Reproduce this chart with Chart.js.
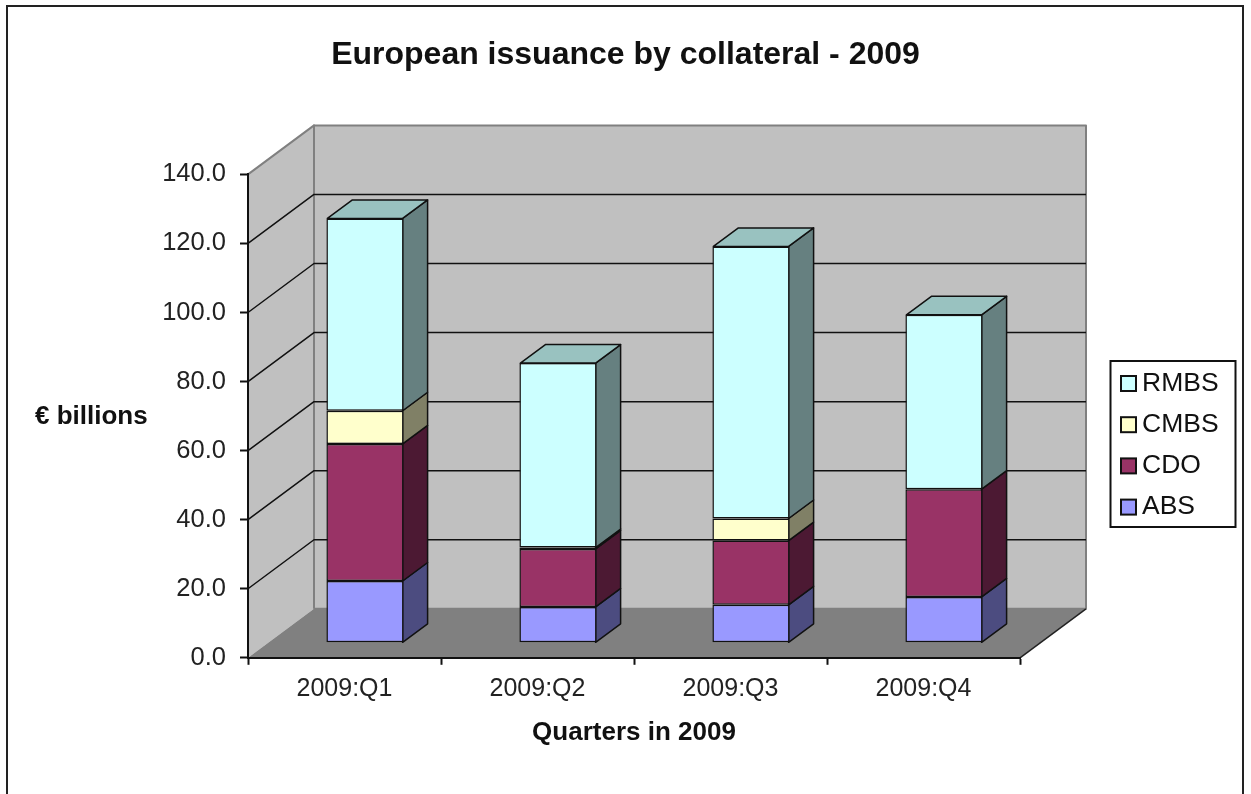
<!DOCTYPE html>
<html lang="en">
<head>
    <meta charset="UTF-8">
    <title>European issuance by collateral - 2009</title>
    <script src="https://cdnjs.cloudflare.com/ajax/libs/Chart.js/4.4.1/chart.umd.min.js"></script>
    <style>
        body { margin: 0; padding: 0; background: white; }
        canvas { display: block; }
    </style>
</head>
<body>
    <canvas id="issuanceChart" width="1251" height="794"></canvas>
    <script>
        // Values (EUR billions)
        const quarters = ['2009:Q1', '2009:Q2', '2009:Q3', '2009:Q4'];
        const abs = [17.9, 10.4, 11.0, 13.3];
        const cdo = [39.7, 16.8, 18.6, 31.2];
        const cmbs = [9.6, 0.4, 6.4, 0];
        const rmbs = [55.7, 53.4, 78.8, 50.5];

        const chartTitle = 'European issuance by collateral - 2009';
        const yAxisTitle = '€ billions';
        const xAxisTitle = 'Quarters in 2009';

        const fontFamily = "'Liberation Sans', Arial, sans-serif";

        // Depth of the fake 3D box and of the bars
        const wallDx = 66, wallDy = -49;
        const barShiftX = 20.5, barShiftY = -15;
        const barDepthX = 25, barDepthY = -18.5;

        function fillPoly(ctx, pts, fill, stroke, width) {
            ctx.beginPath();
            pts.forEach((p, i) => i ? ctx.lineTo(p[0], p[1]) : ctx.moveTo(p[0], p[1]));
            ctx.closePath();
            ctx.fillStyle = fill;
            ctx.fill();
            if (stroke) {
                ctx.strokeStyle = stroke;
                ctx.lineWidth = width;
                ctx.lineJoin = 'round';
                ctx.stroke();
            }
        }

        const boxPlugin = {
            id: 'box3d',
            // the title should centre on the whole picture, not on the plot column
            afterLayout(chart) {
                chart.titleBlock.left = 0;
                chart.titleBlock.right = chart.width;
            },
            // walls and floor go under the axes
            beforeDraw(chart) {
                const ctx = chart.ctx, a = chart.chartArea, y = chart.scales.y;
                ctx.save();

                // outer frame, open at the bottom
                ctx.beginPath();
                ctx.moveTo(7, 794); ctx.lineTo(7, 6); ctx.lineTo(1243, 6); ctx.lineTo(1243, 794);
                ctx.strokeStyle = '#222';
                ctx.lineWidth = 2;
                ctx.stroke();

                const l = a.left, r = a.right, t = a.top, b = a.bottom;
                fillPoly(ctx, [[l + wallDx, t + wallDy], [r + wallDx, t + wallDy], [r + wallDx, b + wallDy], [l + wallDx, b + wallDy]], '#c0c0c0', '#808080', 2);
                fillPoly(ctx, [[l, t], [l + wallDx, t + wallDy], [l + wallDx, b + wallDy], [l, b]], '#c0c0c0', null);
                ctx.beginPath();
                ctx.moveTo(l, t); ctx.lineTo(l + wallDx, t + wallDy); ctx.lineTo(l + wallDx, b + wallDy);
                ctx.strokeStyle = '#808080';
                ctx.lineWidth = 2;
                ctx.stroke();
                fillPoly(ctx, [[l, b], [l + wallDx, b + wallDy], [r + wallDx, b + wallDy], [r, b]], '#808080', null);

                // gridlines run up the side wall then along the back wall
                ctx.strokeStyle = '#111';
                ctx.lineWidth = 1.5;
                y.ticks.forEach(tick => {
                    if (tick.value === 0 || tick.value === y.max) return;
                    const py = y.getPixelForValue(tick.value);
                    ctx.beginPath();
                    ctx.moveTo(l, py);
                    ctx.lineTo(l + wallDx, py + wallDy);
                    ctx.lineTo(r + wallDx, py + wallDy);
                    ctx.stroke();
                });

                // floor's far right edge
                ctx.beginPath();
                ctx.moveTo(r, b);
                ctx.lineTo(r + wallDx, b + wallDy);
                ctx.strokeStyle = '#222';
                ctx.lineWidth = 1.5;
                ctx.stroke();
                ctx.restore();
            },
            // bars sit inside the box, so shift them and add side and top faces
            beforeDatasetsDraw(chart) {
                const ctx = chart.ctx;
                ctx.save();
                ctx.translate(barShiftX, barShiftY);
                chart.data.datasets.forEach((ds, i) => {
                    chart.getDatasetMeta(i).data.forEach((bar, j) => {
                        if (ds.data[j] === 0) return;
                        const x2 = bar.x + bar.width / 2 - 1, x1 = bar.x - bar.width / 2 + 1;
                        fillPoly(ctx, [[x2, bar.y], [x2 + barDepthX, bar.y + barDepthY], [x2 + barDepthX, bar.base + barDepthY], [x2, bar.base]], ds.sideColor, '#111', 1.5);
                        if (i === chart.data.datasets.length - 1) {
                            fillPoly(ctx, [[x1, bar.y], [x1 + barDepthX, bar.y + barDepthY], [x2 + barDepthX, bar.y + barDepthY], [x2, bar.y]], ds.topColor, '#111', 1.5);
                        }
                    });
                });
            },
            afterDatasetsDraw(chart) {
                chart.ctx.restore();
            },
            afterDraw(chart) {
                const ctx = chart.ctx;
                ctx.save();

                // horizontal y axis title
                ctx.fillStyle = '#111';
                ctx.textBaseline = 'middle';
                ctx.textAlign = 'left';
                ctx.font = "bold 26px " + fontFamily;
                ctx.fillText(yAxisTitle, 35, 417);

                // legend, top series first
                ctx.strokeStyle = '#111';
                ctx.lineWidth = 2;
                ctx.strokeRect(1110.5, 361, 125, 166);
                ctx.font = "26.5px " + fontFamily;
                const rows = chart.data.datasets.slice().reverse();
                rows.forEach((ds, i) => {
                    const rowY = 383.5 + i * 41.2;
                    ctx.fillStyle = ds.backgroundColor;
                    ctx.fillRect(1121, rowY - 7.5, 15, 15);
                    ctx.strokeRect(1121, rowY - 7.5, 15, 15);
                    ctx.fillStyle = '#111';
                    ctx.fillText(ds.label, 1142, rowY);
                });
                ctx.restore();
            }
        };

        const ctx = document.getElementById('issuanceChart').getContext('2d');
        const issuanceChart = new Chart(ctx, {
            type: 'bar',
            data: {
                labels: quarters,
                datasets: [
                    { label: 'ABS', data: abs, backgroundColor: '#9999ff', sideColor: '#4c4c80', topColor: '#7373bf' },
                    { label: 'CDO', data: cdo, backgroundColor: '#993366', sideColor: '#4c1933', topColor: '#73264c' },
                    { label: 'CMBS', data: cmbs, backgroundColor: '#ffffcc', sideColor: '#808066', topColor: '#bfbf99' },
                    { label: 'RMBS', data: rmbs, backgroundColor: '#ccffff', sideColor: '#668080', topColor: '#99c2c0' }
                ]
            },
            plugins: [boxPlugin],
            options: {
                responsive: false,
                animation: false,
                events: [],
                layout: { padding: { left: 0, right: 231, top: 0, bottom: 46 } },
                datasets: {
                    bar: {
                        borderColor: '#111',
                        borderWidth: 1.5,
                        borderSkipped: false,
                        barPercentage: 1,
                        categoryPercentage: 0.4
                    }
                },
                plugins: {
                    legend: { display: false },
                    tooltip: { enabled: false },
                    title: {
                        display: true,
                        text: chartTitle,
                        color: '#111',
                        font: { family: fontFamily, size: 32, weight: 'bold' },
                        padding: { top: 36, bottom: 100 }
                    }
                },
                scales: {
                    x: {
                        stacked: true,
                        border: { color: '#111', width: 2 },
                        grid: { drawOnChartArea: false, tickLength: 7, tickColor: '#111', tickWidth: 2 },
                        ticks: { color: '#222', font: { family: fontFamily, size: 25 }, padding: 9, maxRotation: 0 },
                        title: {
                            display: true,
                            text: xAxisTitle,
                            color: '#111',
                            font: { family: fontFamily, size: 26, weight: 'bold' },
                            padding: { top: 4, bottom: 0 }
                        }
                    },
                    y: {
                        stacked: true,
                        min: 0,
                        max: 140,
                        afterFit(scale) { scale.width = 248; },
                        border: { color: '#111', width: 2 },
                        grid: { drawOnChartArea: false, tickLength: 8, tickColor: '#111', tickWidth: 2 },
                        ticks: {
                            stepSize: 20,
                            color: '#222',
                            font: { family: fontFamily, size: 25.5 },
                            padding: 14,
                            callback: value => value.toFixed(1)
                        }
                    }
                }
            }
        });
    </script>
</body>
</html>
